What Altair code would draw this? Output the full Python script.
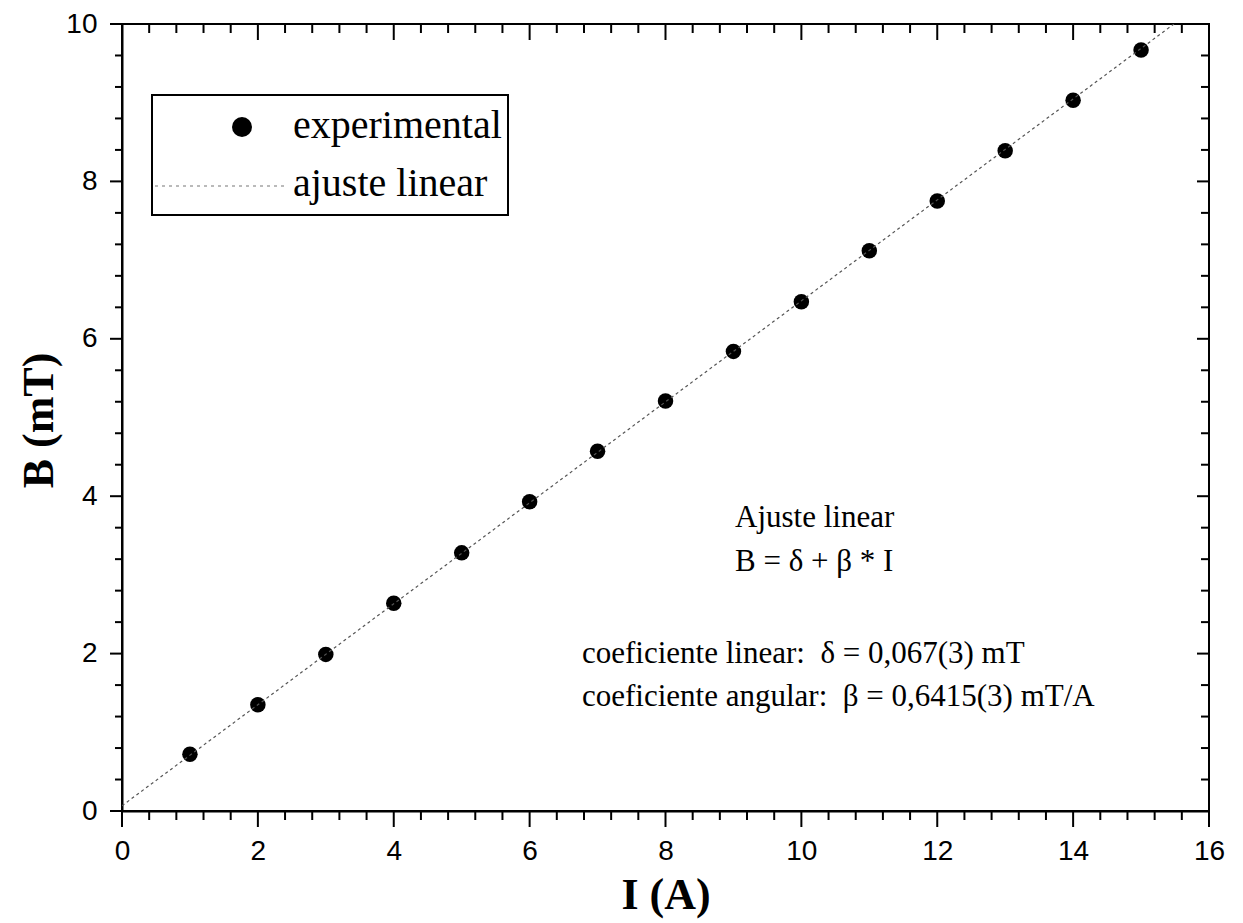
import altair as alt
import pandas as pd

# Measured field B (mT) against coil current I (A)
current_a = [1, 2, 3, 4, 5, 6, 7, 8, 9, 10, 11, 12, 13, 14, 15]
field_mt = [0.72, 1.35, 1.99, 2.64, 3.28, 3.93, 4.57, 5.21, 5.84, 6.47, 7.12, 7.75, 8.39, 9.03, 9.67]

# Linear fit B = delta + beta * I
fit_delta = 0.067
fit_beta = 0.6415

x_major = [0, 2, 4, 6, 8, 10, 12, 14, 16]
y_major = [0, 2, 4, 6, 8, 10]
x_minor = [round(0.4 * k, 1) for k in range(41) if k % 5]
y_minor = [round(0.4 * k, 1) for k in range(26) if k % 5]

W, H = 1087, 787
SERIF = "Liberation Serif"
SANS = "Liberation Sans"

points = pd.DataFrame({"I": current_a, "B": field_mt})
i_end = (10 - fit_delta) / fit_beta
fit_line = pd.DataFrame({"I": [0, i_end], "B": [fit_delta, fit_delta + fit_beta * i_end]})

x_scale = alt.Scale(domain=[0, 16], nice=False, zero=False)
y_scale = alt.Scale(domain=[0, 10], nice=False, zero=False)

x_axis = alt.Axis(
    orient="bottom", values=x_major, format="d", grid=False, ticks=False,
    domainColor="black", domainWidth=2,
    labelFont=SANS, labelFontSize=28, labelColor="black", labelPadding=26,
    labelOverlap=False, labelFlush=False,
    title="I (A)", titleFont=SERIF, titleFontSize=44, titleFontWeight="bold",
    titleColor="black", titleY=84, titleBaseline="middle",
)
y_axis = alt.Axis(
    orient="left", values=y_major, format="d", grid=False, ticks=False,
    domainColor="black", domainWidth=2,
    labelFont=SANS, labelFontSize=28, labelColor="black", labelPadding=25,
    labelOverlap=False, labelFlush=False,
    title="B (mT)", titleFont=SERIF, titleFontSize=44, titleFontWeight="bold",
    titleColor="black", titleX=-83, titleY=396, titleAlign="center",
    titleBaseline="middle", titleAngle=270,
)

dots = alt.Chart(points).mark_point(
    shape="circle", filled=True, color="black", size=240, opacity=1
).encode(
    x=alt.X("I:Q", scale=x_scale, axis=x_axis),
    y=alt.Y("B:Q", scale=y_scale, axis=y_axis),
)

line = alt.Chart(fit_line).mark_line(
    color="#555555", strokeWidth=1.2, strokeDash=[3, 3], clip=True
).encode(
    x=alt.X("I:Q", scale=x_scale, axis=x_axis),
    y=alt.Y("B:Q", scale=y_scale, axis=y_axis),
)


# Tick marks: outward on the bottom and left, inward on the top and right
def x_ticks(values, y0, y1):
    return alt.Chart(pd.DataFrame({"I": values})).mark_rule(
        color="black", strokeWidth=2
    ).encode(
        x=alt.X("I:Q", scale=x_scale, axis=x_axis),
        y=alt.value(y0), y2=alt.value(y1),
    )


def y_ticks(values, x0, x1):
    return alt.Chart(pd.DataFrame({"B": values})).mark_rule(
        color="black", strokeWidth=2
    ).encode(
        y=alt.Y("B:Q", scale=y_scale, axis=y_axis),
        x=alt.value(x0), x2=alt.value(x1),
    )


ticks = [
    x_ticks(x_major, H, H + 16),
    x_ticks(x_minor, H, H + 9),
    x_ticks(x_major, 0, 16),
    x_ticks(x_minor, 0, 9),
    y_ticks(y_major, -12, 0),
    y_ticks(y_minor, -7, 0),
    y_ticks(y_major, W - 12, W),
    y_ticks(y_minor, W - 8, W),
]

one = alt.Data(values=[{}])

legend_box = alt.Chart(one).mark_rect(
    fill="white", stroke="black", strokeWidth=2
).encode(
    x=alt.value(30), x2=alt.value(386), y=alt.value(71), y2=alt.value(191)
)
legend_dot = alt.Chart(one).mark_point(
    shape="circle", filled=True, color="black", size=400, opacity=1
).encode(x=alt.value(120), y=alt.value(103))
legend_line = alt.Chart(one).mark_rule(
    color="#777777", strokeWidth=1.2, strokeDash=[3, 4]
).encode(x=alt.value(33), x2=alt.value(163), y=alt.value(162))
legend_text = alt.Chart(one).mark_text(
    font=SERIF, fontSize=40, color="black", align="left", baseline="middle"
)
legend_t1 = legend_text.encode(x=alt.value(171), y=alt.value(102), text=alt.value("experimental"))
legend_t2 = legend_text.encode(x=alt.value(171), y=alt.value(160), text=alt.value("ajuste linear"))

note = alt.Chart(one).mark_text(
    font=SERIF, fontSize=31, color="black", align="left", baseline="middle"
)
note1 = note.encode(x=alt.value(613), y=alt.value(494), text=alt.value("Ajuste linear"))
note2 = note.encode(x=alt.value(613), y=alt.value(538), text=alt.value("B = δ + β * I"))
note3 = note.encode(x=alt.value(460), y=alt.value(630),
                    text=alt.value("coeficiente linear:\u00a0\u00a0δ = 0,067(3) mT"))
note4 = note.encode(x=alt.value(460), y=alt.value(673),
                    text=alt.value("coeficiente angular:\u00a0\u00a0β = 0,6415(3) mT/A"))

chart = alt.layer(
    dots, line, *ticks,
    legend_box, legend_dot, legend_line, legend_t1, legend_t2,
    note1, note2, note3, note4,
).properties(
    width=W, height=H,
    autosize=alt.AutoSizeParams(type="none"),
    padding={"left": 122, "top": 24, "right": 34, "bottom": 112},
    background="white",
).configure_view(stroke="black", strokeWidth=2)

chart.save("out.html", embed_options={"renderer": "svg", "actions": False})
